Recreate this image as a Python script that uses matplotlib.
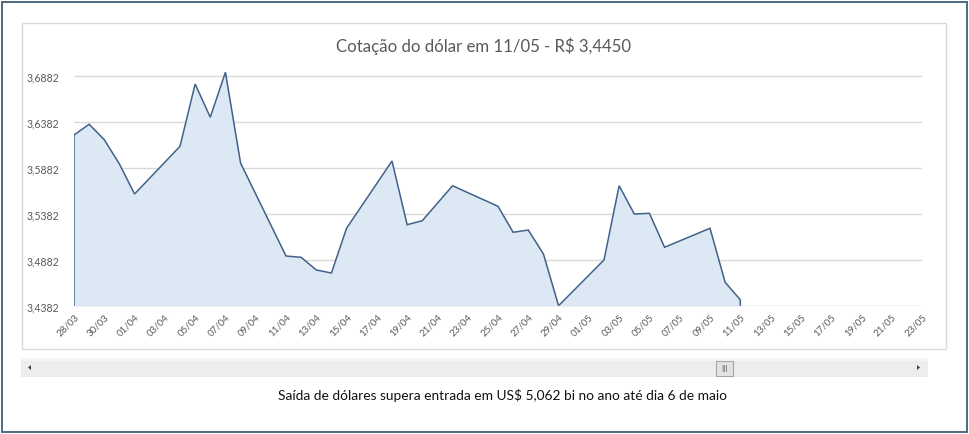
import matplotlib
matplotlib.use("Agg")
import matplotlib.pyplot as plt
import matplotlib.dates as mdates
from matplotlib.patches import Rectangle, Polygon
import pandas as pd

plt.rcParams['font.family'] = ['Lato', 'DejaVu Sans']

# ---- data ----
dates = ["2016-03-28", "2016-03-29", "2016-03-30", "2016-03-31", "2016-04-01",
         "2016-04-04", "2016-04-05", "2016-04-06", "2016-04-07", "2016-04-08",
         "2016-04-11", "2016-04-12", "2016-04-13", "2016-04-14", "2016-04-15",
         "2016-04-18", "2016-04-19", "2016-04-20", "2016-04-22",
         "2016-04-25", "2016-04-26", "2016-04-27", "2016-04-28", "2016-04-29",
         "2016-05-02", "2016-05-03", "2016-05-04", "2016-05-05", "2016-05-06",
         "2016-05-09", "2016-05-10", "2016-05-11"]
values = [3.6243, 3.6360, 3.6192, 3.5927, 3.5601,
          3.6120, 3.6798, 3.6436, 3.6926, 3.5938,
          3.4926, 3.4912, 3.4774, 3.4741, 3.5228,
          3.5960, 3.5267, 3.5310, 3.5691,
          3.5467, 3.5184, 3.5209, 3.4948, 3.4385,
          3.4883, 3.5691, 3.5383, 3.5391, 3.5021,
          3.5228, 3.4640, 3.4450]
x_start, x_end = "2016-03-28", "2016-05-23"
y_ticks = [3.4382, 3.4882, 3.5382, 3.5882, 3.6382, 3.6882]
y_labels = ["3,4382", "3,4882", "3,5382", "3,5882", "3,6382", "3,6882"]
title = "Cotação do dólar em 11/05 - R$ 3,4450"
caption = "Saída de dólares supera entrada em US$ 5,062 bi no ano até dia 6 de maio"

W, H = 969, 435
fig = plt.figure(figsize=(W / 100, H / 100), dpi=100)
fig.patch.set_facecolor("white")

def fx(px):
    return px / W

def fy(py):
    return 1 - py / H

# frames
fig.add_artist(Rectangle((fx(1.5), fy(433)), fx(965), (432 - 1.5) / H,
                         transform=fig.transFigure, fill=False,
                         ec="#4E6880", lw=1.4))
fig.add_artist(Rectangle((fx(21.5), fy(350)), fx(924.5), (350 - 24) / H,
                         transform=fig.transFigure, fill=False,
                         ec="#D9D9D9", lw=1.0))

# axes
y_min, y_max = y_ticks[0], 3.70
ax_left, ax_right, ax_bot_px = 74, 922, 307
ax_h_px = (y_max - y_min) * 918.8
ax = fig.add_axes([fx(ax_left), fy(ax_bot_px), fx(ax_right - ax_left), ax_h_px / H])

d = pd.to_datetime(dates)
xs = mdates.date2num(d)
ax.fill_between(xs, values, y_min, color="#DDE8F5", lw=0, zorder=2)
line_x = [xs[0]] + list(xs) + [xs[-1]]
line_y = [y_min] + values + [y_min]
ax.plot(line_x, line_y, color="#41618A", lw=1.1, zorder=3, solid_joinstyle="miter")

ax.set_xlim(mdates.date2num(pd.Timestamp(x_start)), mdates.date2num(pd.Timestamp(x_end)))
ax.set_ylim(y_min, y_max)
ax.set_yticks(y_ticks)
ax.set_yticklabels(y_labels)
tick_dates = pd.date_range(x_start, x_end, freq="2D")
ax.set_xticks(mdates.date2num(tick_dates))
ax.set_xticklabels([t.strftime("%d/%m") for t in tick_dates])
ax.grid(axis="y", color="#D9D9D9", lw=1.0, zorder=0)
ax.set_axisbelow(True)
ax.axhline(y_min, color="#D9D9D9", lw=1.0, zorder=4)
for s in ax.spines.values():
    s.set_visible(False)
ax.tick_params(axis="both", length=0)
ax.tick_params(axis="y", labelsize=7.6, labelcolor="#595959", pad=10.5)
ax.tick_params(axis="x", labelsize=7, labelcolor="#595959", pad=4)
for lbl in ax.get_xticklabels():
    lbl.set_rotation(45)
    lbl.set_ha("right")
    lbl.set_va("top")
    lbl.set_rotation_mode("anchor")
ax.patch.set_alpha(0)

fig.text(fx(483), fy(46.5), title, ha="center", va="center",
         fontsize=12.1, color="#595959")

# scrollbar
fig.add_artist(Rectangle((fx(21), fy(377.5)), fx(907), 18.5 / H,
                         transform=fig.transFigure, fc="#EDEDED", ec="none"))
fig.add_artist(Rectangle((fx(21), fy(362)), fx(907), 3 / H,
                         transform=fig.transFigure, fc="#F5F5F5", ec="none"))
fig.add_artist(Rectangle((fx(716), fy(376.5)), fx(17), 14.5 / H,
                         transform=fig.transFigure, fc="#E3E3E3", ec="#A6A6A6", lw=0.8))
fig.text(fx(724.5), fy(369.5), "III", ha="center", va="center", fontsize=5.5,
         color="#666666", family="DejaVu Sans")
fig.add_artist(Polygon([(fx(28), fy(368.5)), (fx(31), fy(366)), (fx(31), fy(371))],
                       closed=True, transform=fig.transFigure, fc="#404040", ec="none"))
fig.add_artist(Polygon([(fx(920), fy(368.5)), (fx(917), fy(366)), (fx(917), fy(371))],
                       closed=True, transform=fig.transFigure, fc="#404040", ec="none"))

fig.text(fx(502.5), fy(395.5), caption, ha="center", va="center",
         fontsize=9.9, color="#111111")

fig.savefig("out.png", dpi=100, facecolor="white")
